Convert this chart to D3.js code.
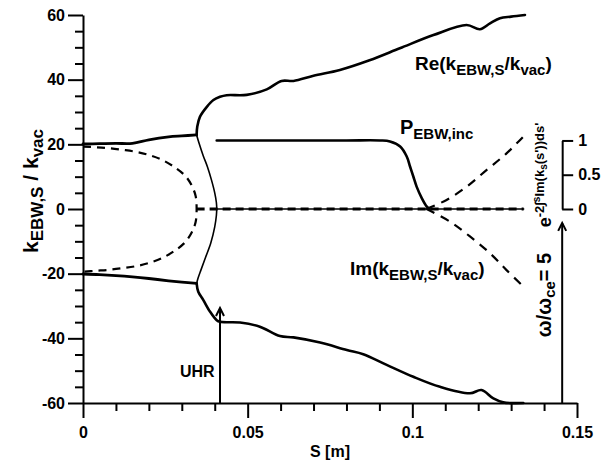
<!DOCTYPE html>
<html><head><meta charset="utf-8">
<script src="https://cdn.jsdelivr.net/npm/d3@7"></script>
<style>
body{margin:0;background:#fff}
svg{display:block}
text{font-family:"Liberation Sans",Arial,sans-serif;font-weight:bold;fill:#000;white-space:pre}
</style>
</head><body>
<svg id="c" width="615" height="460"></svg>
<script>
// ---------- data ----------
const xMajorTicks = [0, 0.05, 0.1, 0.15];
const xTickLabels = ["0", "0.05", "0.1", "0.15"];
const xMinorTicks = [0.01,0.02,0.03,0.04,0.06,0.07,0.08,0.09,0.11,0.12,0.13,0.14];
const yMajorTicks = [-60, -40, -20, 0, 20, 40, 60];
const yTickLabels = ["-60", "-40", "-20", "0", "20", "40", "60"];
const yMinorTicks = [-55,-50,-45,-35,-30,-25,-15,-10,-5,5,10,15,25,30,35,45,50,55];
const pTicks = [0, 0.5, 1];
const pTickLabels = ["0", "0.5", "1"];
const pFullScale = 21.2; // main-axis value at which P = 1

// Re(k) branches
const reUpperLeftS = [0, 0.005, 0.010, 0.015, 0.020, 0.026, 0.030, 0.0345];
const reUpperLeftV = [20.1, 20.2, 20.3, 20.3, 21.4, 22.3, 22.6, 22.9];
const reLowerLeftS = [0, 0.005, 0.010, 0.015, 0.020, 0.026, 0.030, 0.0345];
const reLowerLeftV = [-20.1, -20.3, -20.6, -21.0, -21.5, -22.2, -22.6, -23.0];
const reMidS = [0.0345, 0.0352, 0.0365, 0.0378, 0.0390, 0.0400, 0.0405, 0.0406, 0.0405, 0.0400, 0.0388, 0.0372, 0.0358, 0.0349, 0.0345];
const reMidV = [22.9, 20.5, 16.5, 13.0, 9.0, 5.0, 2.0, 0, -2.0, -5.5, -10.5, -15.0, -18.9, -21.5, -23.0];
const reUpperS = [0.0345, 0.0347, 0.0355, 0.0376, 0.0396, 0.0416, 0.0436, 0.0497, 0.0558, 0.0603, 0.0639, 0.070, 0.078, 0.087, 0.0962, 0.1064, 0.1165, 0.1205, 0.1236, 0.1266, 0.1300, 0.1342];
const reUpperV = [22.9, 25.5, 28.5, 31.6, 33.7, 34.7, 35.2, 35.3, 37.0, 39.6, 39.6, 41.2, 43.0, 46.0, 49.7, 53.8, 56.9, 55.6, 57.4, 59.0, 59.5, 60.0];
const reLowerS = [0.0345, 0.0350, 0.0365, 0.0386, 0.0406, 0.0416, 0.0477, 0.0537, 0.0598, 0.0639, 0.072, 0.0801, 0.0851, 0.0922, 0.1003, 0.1084, 0.1175, 0.1210, 0.1246, 0.1276, 0.1337];
const reLowerV = [-23.0, -25.6, -28.1, -31.8, -34.4, -34.9, -35.1, -36.4, -39.3, -39.7, -41.3, -43.6, -44.9, -48.2, -51.9, -55.0, -57.0, -56.0, -58.6, -59.8, -60.0];
const reZeroS = [0.0406, 0.1338];
const reZeroV = [0, 0];

// Im(k) branches (dashed)
const imLeftS = [0, 0.004, 0.008, 0.012, 0.016, 0.020, 0.024, 0.028, 0.031, 0.033, 0.0342, 0.0345, 0.0342, 0.033, 0.031, 0.028, 0.024, 0.020, 0.016, 0.012, 0.008, 0.004, 0];
const imLeftV = [19.3, 19.1, 18.8, 18.3, 17.7, 16.7, 15.2, 12.8, 10.3, 7.3, 4.0, 0, -4.0, -7.3, -10.3, -12.8, -15.2, -16.7, -17.7, -18.3, -18.8, -19.1, -19.4];
const imZeroS = [0.0345, 0.1338];
const imZeroV = [0, 0];
const imUpperRightS = [0.1043, 0.1104, 0.1165, 0.1226, 0.1286, 0.1337];
const imUpperRightV = [0, 2.8, 6.9, 12.1, 17.2, 22.4];
const imLowerRightS = [0.1043, 0.1114, 0.1175, 0.1236, 0.1286, 0.1337];
const imLowerRightV = [0, -3.9, -8.5, -13.7, -18.9, -24.0];

// P_EBW,inc (right axis units 0..1)
const pIncS = [0.0406, 0.060, 0.080, 0.0902, 0.0932, 0.0963, 0.0983, 0.0993, 0.1003, 0.1013, 0.1029, 0.1044, 0.1052];
const pIncV = [1, 1, 1, 1.0, 0.985, 0.912, 0.766, 0.62, 0.474, 0.326, 0.156, 0.034, 0];

// annotation arrows
const arrowS = [0.0416, 0.1455];
const arrowFrom = [-60, -60];
const arrowTo = [-30.6, -4.3];

// ---------- layout ----------
const svg = d3.select("#c");
const x = d3.scaleLinear().domain([0, 0.15]).range([83, 577]);
const y = d3.scaleLinear().domain([-60, 60]).range([403, 15]);
const yP = d3.scaleLinear().domain([0, 1]).range([y(0), y(pFullScale)]);

const zip = (S, V) => S.map((s, i) => [s, V[i]]);
const line = d3.line().x(d => x(d[0])).y(d => y(d[1])).curve(d3.curveCatmullRom.alpha(0.5));
const lineP = d3.line().x(d => x(d[0])).y(d => yP(d[1])).curve(d3.curveCatmullRom.alpha(0.5));

const curves = svg.append("g").attr("fill", "none").attr("stroke", "#000").attr("stroke-linecap", "round").attr("stroke-linejoin", "round");

function draw(S, V, w, dash, gen) {
  const p = curves.append("path").attr("d", (gen || line)(zip(S, V))).attr("stroke-width", w);
  if (dash) p.attr("stroke-dasharray", dash).attr("stroke-linecap", "butt");
  return p;
}

draw(imLeftS, imLeftV, 2.2, "8,6");
draw(imZeroS, imZeroV, 3.2, "8,5");
draw(imUpperRightS, imUpperRightV, 2.2, "9,7");
draw(imLowerRightS, imLowerRightV, 2.2, "9,7");
draw(reZeroS, reZeroV, 1.6);
draw(reUpperLeftS, reUpperLeftV, 2.8);
draw(reLowerLeftS, reLowerLeftV, 2.8);
draw(reMidS, reMidV, 1.6);
draw(reUpperS, reUpperV, 2.6);
draw(reLowerS, reLowerV, 2.6);
draw(pIncS, pIncV, 2.6, null, lineP);

// arrows
const arr = svg.append("g").attr("stroke", "#000").attr("fill", "none").attr("stroke-width", 2);
arrowS.forEach((s, i) => {
  const ax = x(s), y0 = y(arrowFrom[i]), y1 = y(arrowTo[i]);
  arr.append("line").attr("x1", ax).attr("x2", ax).attr("y1", y0).attr("y2", y1);
  arr.append("path").attr("d", `M${ax - 4},${y1 + 8}L${ax},${y1}L${ax + 4},${y1 + 8}`).attr("stroke-linejoin", "miter");
});

// ---------- axes ----------
function styleAxis(g) {
  g.selectAll("path.domain").attr("stroke", "#000").attr("stroke-width", 2);
  g.selectAll(".tick line").attr("stroke", "#000").attr("stroke-width", 2);
  g.selectAll(".tick text").attr("font-size", 16).attr("font-family", '"Liberation Sans",Arial,sans-serif').attr("font-weight", "bold");
}

const gxMinor = svg.append("g").attr("transform", `translate(0,${y(-60)})`)
  .call(d3.axisBottom(x).tickValues(xMinorTicks).tickSize(8).tickFormat(""));
gxMinor.select("path.domain").remove();
styleAxis(gxMinor);
const gx = svg.append("g").attr("transform", `translate(0,${y(-60)})`)
  .call(d3.axisBottom(x).tickValues(xMajorTicks).tickSize(15).tickSizeOuter(0).tickPadding(9)
    .tickFormat((d, i) => xTickLabels[i]));
styleAxis(gx);

const gyMinor = svg.append("g").attr("transform", `translate(${x(0)},0)`)
  .call(d3.axisLeft(y).tickValues(yMinorTicks).tickSize(8).tickFormat(""));
gyMinor.select("path.domain").remove();
styleAxis(gyMinor);
const gy = svg.append("g").attr("transform", `translate(${x(0)},0)`)
  .call(d3.axisLeft(y).tickValues(yMajorTicks).tickSize(15).tickSizeOuter(0).tickPadding(3)
    .tickFormat((d, i) => yTickLabels[i]));
styleAxis(gy);

const gp = svg.append("g").attr("transform", `translate(${x(0.1455)},0)`)
  .call(d3.axisRight(yP).tickValues(pTicks).tickSize(11).tickSizeOuter(0).tickPadding(5)
    .tickFormat((d, i) => pTickLabels[i]));
styleAxis(gp);

// ---------- texts ----------
function rich(tx, ty, rot, anchor, parts) {
  const t = svg.append("text").attr("text-anchor", anchor)
    .attr("transform", `translate(${tx},${ty})` + (rot ? ` rotate(${rot})` : ""));
  let cur = 0;
  parts.forEach(p => {
    const off = p.off || 0;
    t.append("tspan").attr("font-size", p.size).attr("dy", off - cur).text(p.t);
    cur = off;
  });
  return t;
}

rich(415, 70, 0, "start", [
  {t: "Re(k", size: 19}, {t: "EBW,S", size: 15, off: 5}, {t: "/k", size: 19}, {t: "vac", size: 15, off: 5}, {t: ")", size: 19}]);
rich(350, 275, 0, "start", [
  {t: "Im(k", size: 19}, {t: "EBW,S", size: 15, off: 5}, {t: "/k", size: 19}, {t: "vac", size: 15, off: 5}, {t: ")", size: 19}]);
rich(400, 134, 0, "start", [{t: "P", size: 20}, {t: "EBW,inc", size: 15, off: 5}]);
rich(180, 377, 0, "start", [{t: "UHR", size: 16}]);
rich(330, 457, 0, "middle", [{t: "S [m]", size: 16}]);
rich(38, 191, -90, "middle", [
  {t: "k", size: 21}, {t: "EBW,S", size: 17, off: 5}, {t: " / k", size: 21}, {t: "vac", size: 17, off: 5}]);
rich(551, 295, -90, "middle", [
  {t: "ω/ω", size: 20}, {t: "ce", size: 15, off: 4}, {t: "= 5", size: 20}]);
rich(551, 175, -90, "middle", [
  {t: "e", size: 18}, {t: "-2∫", size: 13, off: -7}, {t: "s", size: 10, off: -11}, {t: "Im(k", size: 13, off: -7},
  {t: "s", size: 10, off: -4}, {t: "(s'))ds'", size: 13, off: -7}]);
</script>
</body></html>
